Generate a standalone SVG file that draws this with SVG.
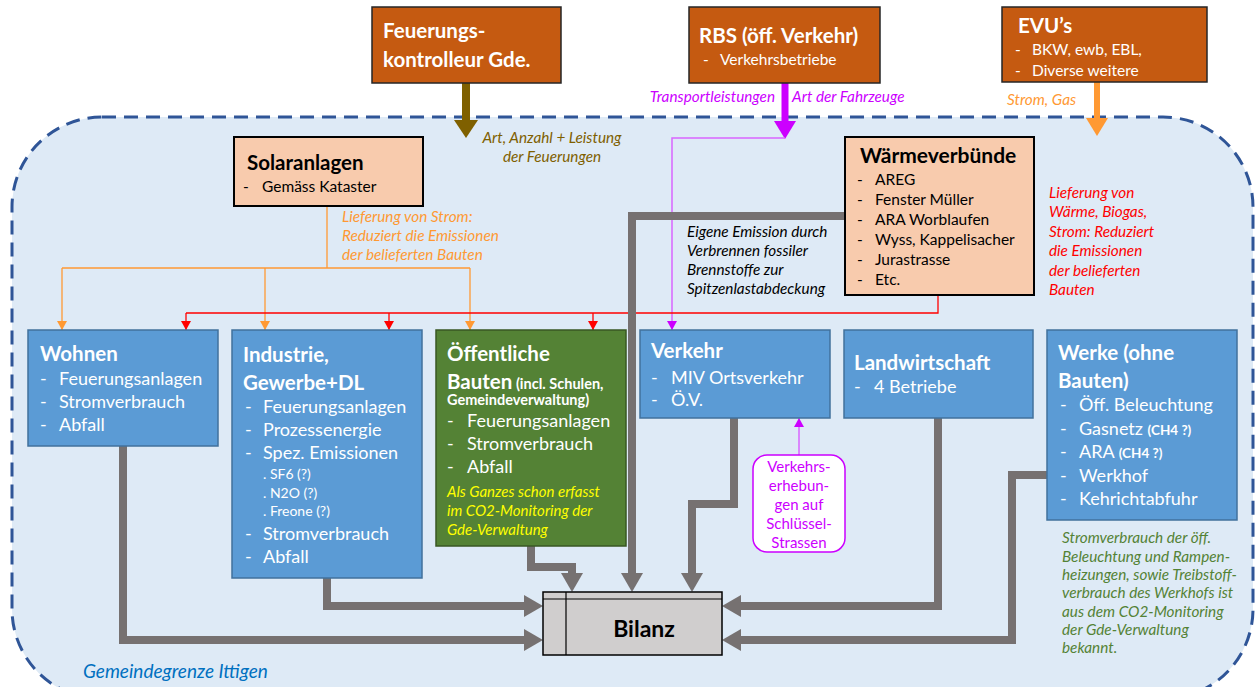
<svg xmlns="http://www.w3.org/2000/svg" width="1257" height="687" viewBox="0 0 1257 687">
<style>
text{font-family:Lato,"Noto Sans",sans-serif}
.w{fill:#fff}
.k{fill:#000}
.t{font-size:20.5px;font-weight:bold}
.i{font-size:18px}
.s{font-size:15.5px}
.it{font-style:italic;font-size:15.3px}
.brown{fill:#C55A11;stroke:#262626;stroke-width:1.5}
.peach{fill:#F8CBAD;stroke:#000;stroke-width:2}
.blue{fill:#5B9BD5;stroke:#41719C;stroke-width:1.5}
.green{fill:#548235;stroke:#385723;stroke-width:1.5}
.g{fill:none;stroke:#767171;stroke-width:8}
</style>
<defs>
<marker id="ag" markerUnits="userSpaceOnUse" markerWidth="20" markerHeight="22" refX="0" refY="11" orient="auto"><path d="M0,0 L19,11 L0,22 z" fill="#767171"/></marker>
<marker id="ao" markerUnits="userSpaceOnUse" markerWidth="10" markerHeight="10" refX="9" refY="5" orient="auto"><path d="M0,0 L9,5 L0,10 z" fill="#FF9933"/></marker>
<marker id="ar" markerUnits="userSpaceOnUse" markerWidth="10" markerHeight="10" refX="9" refY="5" orient="auto"><path d="M0,0 L9,5 L0,10 z" fill="#FF0000"/></marker>
<marker id="am" markerUnits="userSpaceOnUse" markerWidth="10" markerHeight="10" refX="9" refY="5" orient="auto"><path d="M0,0 L9,5 L0,10 z" fill="#CC00FF"/></marker>
<marker id="abr" markerUnits="userSpaceOnUse" markerWidth="20" markerHeight="24" refX="0" refY="12" orient="auto"><path d="M0,0 L18,12 L0,24 z" fill="#7F6000"/></marker>
<marker id="amg" markerUnits="userSpaceOnUse" markerWidth="20" markerHeight="22" refX="0" refY="11" orient="auto"><path d="M0,0 L18,11 L0,22 z" fill="#CC00FF"/></marker>
<marker id="aor" markerUnits="userSpaceOnUse" markerWidth="20" markerHeight="22" refX="0" refY="11" orient="auto"><path d="M0,0 L18,11 L0,22 z" fill="#FF9933"/></marker>
</defs>

<g id="boundary">
<rect x="12" y="117" width="1241" height="582" rx="90" ry="90" fill="#DEEAF6" stroke="#2F5597" stroke-width="3" stroke-dasharray="14 8"/>
<text x="83" y="678" class="it" style="font-size:19px" fill="#0070C0">Gemeindegrenze Ittigen</text>
</g>

<g id="connectors">
<line x1="466" y1="83" x2="466" y2="120" stroke="#7F6000" stroke-width="8" marker-end="url(#abr)"/>
<line x1="785" y1="83" x2="785" y2="121" stroke="#CC00FF" stroke-width="7" marker-end="url(#amg)"/>
<line x1="1097" y1="82" x2="1097" y2="118" stroke="#FF9933" stroke-width="6" marker-end="url(#aor)"/>
<polyline points="785,138 672,138 672,330" fill="none" stroke="#D966FF" stroke-width="1.5" marker-end="url(#am)"/>
<line x1="799" y1="455" x2="799" y2="418" stroke="#D966FF" stroke-width="1.5" marker-end="url(#am)"/>
<g fill="none" stroke="#FF9933" stroke-width="1.3">
<line x1="327" y1="206" x2="327" y2="268"/>
<line x1="62" y1="268" x2="470" y2="268"/>
<line x1="62" y1="268" x2="62" y2="330" marker-end="url(#ao)"/>
<line x1="265" y1="268" x2="265" y2="330" marker-end="url(#ao)"/>
<line x1="470" y1="268" x2="470" y2="330" marker-end="url(#ao)"/>
</g>
<g fill="none" stroke="#FF0000" stroke-width="1.3">
<polyline points="938,295 938,313 186,313"/>
<line x1="186" y1="313" x2="186" y2="330" marker-end="url(#ar)"/>
<line x1="389" y1="313" x2="389" y2="330" marker-end="url(#ar)"/>
<line x1="593" y1="313" x2="593" y2="330" marker-end="url(#ar)"/>
</g>
<polyline class="g" points="123,446 123,640 524,640" marker-end="url(#ag)"/>
<polyline class="g" points="327,578 327,606 524,606" marker-end="url(#ag)"/>
<polyline class="g" points="531,546 531,567 572,567 572,573" marker-end="url(#ag)"/>
<polyline class="g" points="845,216 632,216 632,573" marker-end="url(#ag)"/>
<polyline class="g" points="734,418 734,504 692,504 692,573" marker-end="url(#ag)"/>
<polyline class="g" points="938,418 938,606 741,606" marker-end="url(#ag)"/>
<polyline class="g" points="1047,475 1012,475 1012,640 741,640" marker-end="url(#ag)"/>
</g>

<g id="labels">
<text class="it" fill="#7F6000" text-anchor="middle"><tspan x="552" y="143">Art, Anzahl + Leistung</tspan><tspan x="552" y="162">der Feuerungen</tspan></text>
<text class="it" fill="#CC00FF" x="775" y="102" text-anchor="end">Transportleistungen</text>
<text class="it" fill="#CC00FF" x="792" y="102">Art der Fahrzeuge</text>
<text class="it" fill="#FF9933" x="1007" y="105">Strom, Gas</text>
<text class="it" fill="#FF9933"><tspan x="342" y="222">Lieferung von Strom:</tspan><tspan x="342" y="241">Reduziert die Emissionen</tspan><tspan x="342" y="260">der belieferten Bauten</tspan></text>
<text class="it" fill="#FF0000"><tspan x="1049" y="198">Lieferung von</tspan><tspan x="1049" y="217">Wärme, Biogas,</tspan><tspan x="1049" y="237">Strom: Reduziert</tspan><tspan x="1049" y="256">die Emissionen</tspan><tspan x="1049" y="276">der belieferten</tspan><tspan x="1049" y="295">Bauten</tspan></text>
<text class="it" fill="#000"><tspan x="687" y="237">Eigene Emission durch</tspan><tspan x="687" y="256">Verbrennen fossiler</tspan><tspan x="687" y="275">Brennstoffe zur</tspan><tspan x="687" y="294">Spitzenlastabdeckung</tspan></text>
<text class="it" fill="#548235"><tspan x="1062" y="543">Stromverbrauch der öff.</tspan><tspan x="1062" y="562">Beleuchtung und Rampen-</tspan><tspan x="1062" y="580">heizungen, sowie Treibstoff-</tspan><tspan x="1062" y="598">verbrauch des Werkhofs ist</tspan><tspan x="1062" y="617">aus dem CO2-Monitoring</tspan><tspan x="1062" y="635">der Gde-Verwaltung</tspan><tspan x="1062" y="653">bekannt.</tspan></text>
</g>

<g id="feuerungskontrolleur">
<rect class="brown" x="372" y="7" width="189" height="76"/>
<text class="w t"><tspan x="383" y="38">Feuerungs-</tspan><tspan x="383" y="67">kontrolleur Gde.</tspan></text>
</g>

<g id="rbs">
<rect class="brown" x="689" y="7" width="191" height="76"/>
<text class="w t" x="699" y="43">RBS (öff. Verkehr)</text>
<text class="w s"><tspan x="703" y="65">-</tspan><tspan x="720" y="65">Verkehrsbetriebe</tspan></text>
</g>

<g id="evu">
<rect class="brown" x="1002" y="7" width="205" height="75"/>
<text class="w t" x="1018" y="33">EVU’s</text>
<text class="w s"><tspan x="1015" y="55">-</tspan><tspan x="1032" y="55">BKW, ewb, EBL,</tspan><tspan x="1015" y="76">-</tspan><tspan x="1032" y="76">Diverse weitere</tspan></text>
</g>

<g id="solaranlagen">
<rect class="peach" x="234" y="137" width="189" height="69"/>
<text class="k t" x="247" y="170">Solaranlagen</text>
<text class="k s"><tspan x="243" y="192">-</tspan><tspan x="262" y="192">Gemäss Kataster</tspan></text>
</g>

<g id="waermeverbuende">
<rect class="peach" x="845" y="137" width="189" height="158"/>
<text class="k t" style="font-size:21px" x="860" y="163">Wärmeverbünde</text>
<text class="k s">
<tspan x="857" y="185">-</tspan><tspan x="875" y="185">AREG</tspan>
<tspan x="857" y="205">-</tspan><tspan x="875" y="205">Fenster Müller</tspan>
<tspan x="857" y="225">-</tspan><tspan x="875" y="225">ARA Worblaufen</tspan>
<tspan x="857" y="245">-</tspan><tspan x="875" y="245">Wyss, Kappelisacher</tspan>
<tspan x="857" y="265">-</tspan><tspan x="875" y="265">Jurastrasse</tspan>
<tspan x="857" y="285">-</tspan><tspan x="875" y="285">Etc.</tspan>
</text>
</g>

<g id="wohnen">
<rect class="blue" x="28" y="330" width="190" height="116"/>
<text class="w t" x="40" y="361">Wohnen</text>
<text class="w i">
<tspan x="40" y="385">-</tspan><tspan x="59" y="385">Feuerungsanlagen</tspan>
<tspan x="40" y="408">-</tspan><tspan x="59" y="408">Stromverbrauch</tspan>
<tspan x="40" y="431">-</tspan><tspan x="59" y="431">Abfall</tspan>
</text>
</g>

<g id="industrie">
<rect class="blue" x="232" y="330" width="190" height="248"/>
<text class="w t"><tspan x="243" y="362">Industrie,</tspan><tspan x="243" y="390">Gewerbe+DL</tspan></text>
<text class="w i">
<tspan x="245" y="413">-</tspan><tspan x="263" y="413">Feuerungsanlagen</tspan>
<tspan x="245" y="436">-</tspan><tspan x="263" y="436">Prozessenergie</tspan>
<tspan x="245" y="459">-</tspan><tspan x="263" y="459">Spez. Emissionen</tspan>
<tspan x="245" y="540">-</tspan><tspan x="263" y="540">Stromverbrauch</tspan>
<tspan x="245" y="563">-</tspan><tspan x="263" y="563">Abfall</tspan>
</text>
<text class="w" style="font-size:14px"><tspan x="263" y="479">. SF6 (?)</tspan><tspan x="263" y="498">. N2O (?)</tspan><tspan x="263" y="516">. Freone (?)</tspan></text>
</g>

<g id="oeffentliche-bauten">
<rect class="green" x="436" y="330" width="190" height="216"/>
<text class="w t"><tspan x="447" y="361">Öffentliche</tspan><tspan x="447" y="389">Bauten<tspan style="font-size:14.5px"> (incl. Schulen,</tspan></tspan></text>
<text class="w" style="font-size:14.5px;font-weight:bold" x="447" y="405">Gemeindeverwaltung)</text>
<text class="w i">
<tspan x="447" y="427">-</tspan><tspan x="467" y="427">Feuerungsanlagen</tspan>
<tspan x="447" y="450">-</tspan><tspan x="467" y="450">Stromverbrauch</tspan>
<tspan x="447" y="473">-</tspan><tspan x="467" y="473">Abfall</tspan>
</text>
<text class="it" fill="#FFFF00" style="font-size:15px"><tspan x="447" y="497">Als Ganzes schon erfasst</tspan><tspan x="447" y="516">im CO2-Monitoring der</tspan><tspan x="447" y="535">Gde-Verwaltung</tspan></text>
</g>

<g id="verkehr">
<rect class="blue" x="640" y="330" width="190" height="88"/>
<text class="w t" x="651" y="358">Verkehr</text>
<text class="w i">
<tspan x="651" y="384">-</tspan><tspan x="671" y="384">MIV Ortsverkehr</tspan>
<tspan x="651" y="406">-</tspan><tspan x="671" y="406">Ö.V.</tspan>
</text>
</g>

<g id="landwirtschaft">
<rect class="blue" x="844" y="330" width="189" height="88"/>
<text class="w t" x="854" y="370">Landwirtschaft</text>
<text class="w i"><tspan x="854" y="393">-</tspan><tspan x="874" y="393">4 Betriebe</tspan></text>
</g>

<g id="werke">
<rect class="blue" x="1047" y="330" width="190" height="190"/>
<text class="w t"><tspan x="1058" y="360">Werke (ohne</tspan><tspan x="1058" y="388">Bauten)</tspan></text>
<text class="w i">
<tspan x="1060" y="411">-</tspan><tspan x="1079" y="411">Öff. Beleuchtung</tspan>
<tspan x="1060" y="435">-</tspan><tspan x="1079" y="435">Gasnetz <tspan style="font-size:13.5px;font-weight:bold">(CH4 ?)</tspan></tspan>
<tspan x="1060" y="458">-</tspan><tspan x="1079" y="458">ARA <tspan style="font-size:13.5px;font-weight:bold">(CH4 ?)</tspan></tspan>
<tspan x="1060" y="482">-</tspan><tspan x="1079" y="482">Werkhof</tspan>
<tspan x="1060" y="505">-</tspan><tspan x="1079" y="505">Kehrichtabfuhr</tspan>
</text>
</g>

<g id="verkehrserhebungen">
<rect x="753" y="455" width="92" height="97" rx="14" ry="14" fill="#fff" stroke="#CC00FF" stroke-width="1.5"/>
<text fill="#CC00FF" style="font-size:15px" text-anchor="middle"><tspan x="799" y="472">Verkehrs-</tspan><tspan x="799" y="491">erhebun-</tspan><tspan x="799" y="510">gen auf</tspan><tspan x="799" y="529">Schlüssel-</tspan><tspan x="799" y="548">Strassen</tspan></text>
</g>

<g id="bilanz">
<rect x="543" y="592" width="179" height="63" fill="#D0CECE" stroke="#000" stroke-width="1.5"/>
<line x1="543" y1="599" x2="722" y2="599" stroke="#000" stroke-width="1.2"/>
<line x1="566" y1="592" x2="566" y2="655" stroke="#000" stroke-width="1.2"/>
<text class="k" style="font-size:23px;font-weight:bold" x="644" y="637" text-anchor="middle">Bilanz</text>
</g>
</svg>
